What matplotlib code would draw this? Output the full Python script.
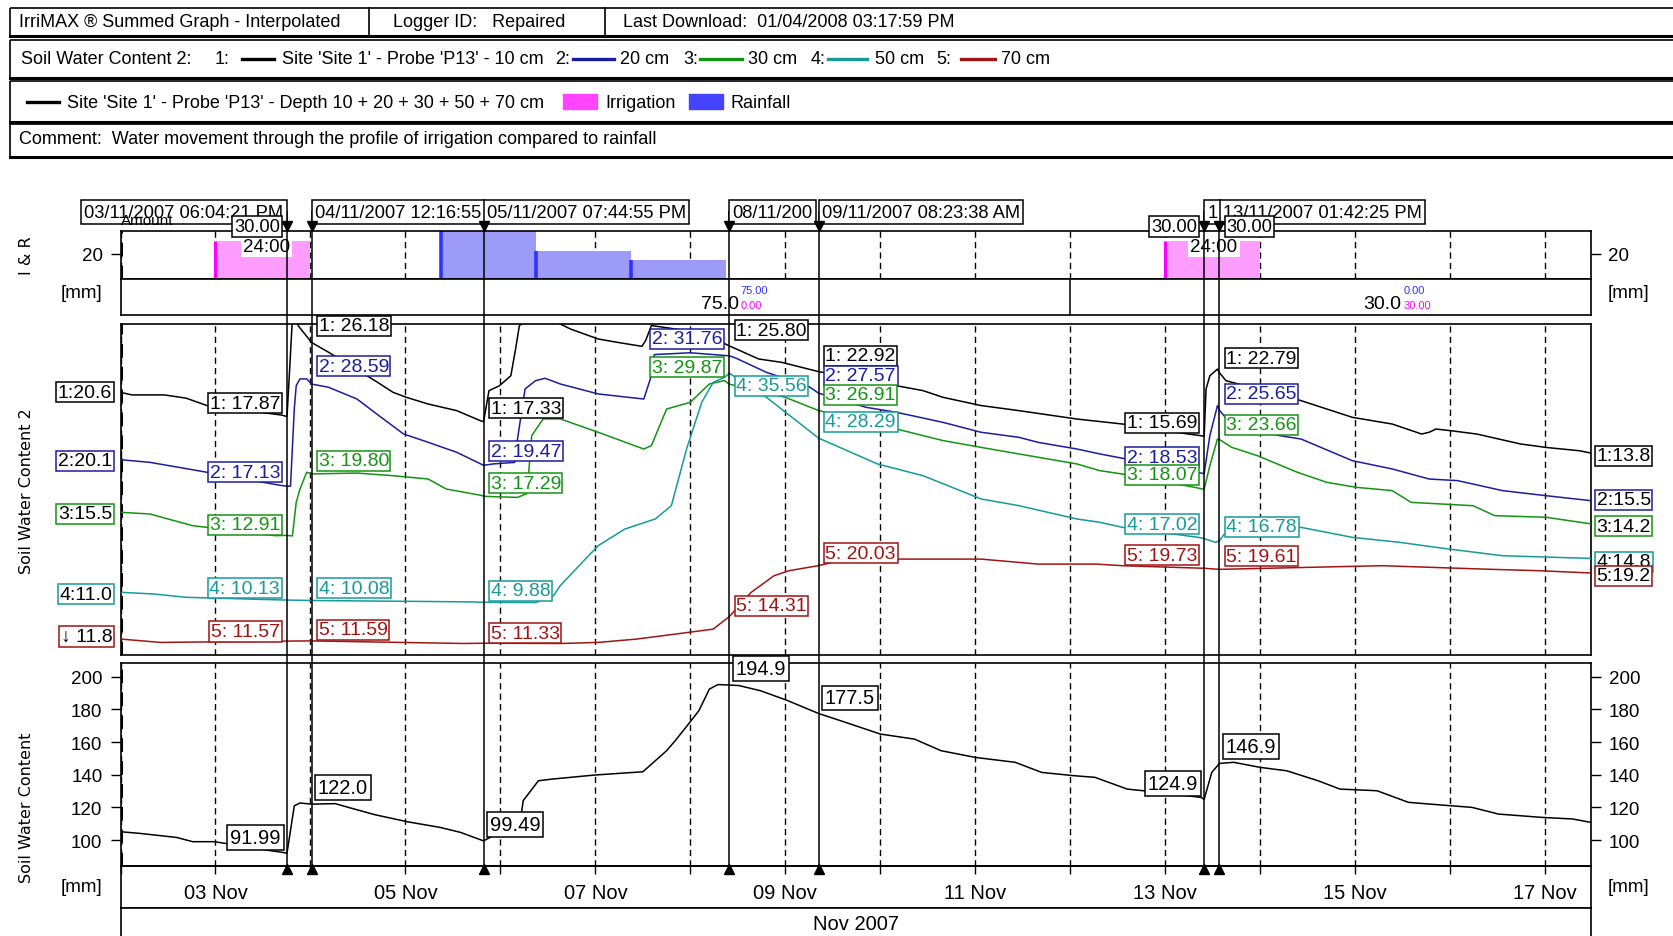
import numpy as np
import pandas as pd
import matplotlib
matplotlib.use("Agg")
import matplotlib.pyplot as plt
import matplotlib.dates as mdates
from matplotlib.patches import Rectangle

plt.rcParams['font.family'] = ['Liberation Sans', 'DejaVu Sans']

# all times are days since 02 Nov 2007 00:00
t0 = mdates.date2num(pd.Timestamp("2007-11-02 00:00"))
x_end = 15.483

event_days = [1.7530, 2.0117, 3.8229, 6.4097, 7.3497, 11.4097, 11.5711]
event_names = ["03/11/2007 06:04:21 PM", "04/11/2007 12:16:55", "05/11/2007 07:44:55 PM",
               "08/11/200", "09/11/2007 08:23:38 AM", "1", "13/11/2007 01:42:25 PM"]

irr_days = [1.0, 11.0]
irr_len = [1.0, 1.0]
irr_mm = [30.0, 30.0]
rain_days = [3.375, 4.375, 5.375]
rain_len = [1.0, 1.0, 1.0]
rain_mm = [38.0, 22.0, 15.0]
total_edges = [2.0117, 10.0, 15.483]

depths = ["10 cm", "20 cm", "30 cm", "50 cm", "70 cm"]
colors = ["#000000", "#1c1ca0", "#139413", "#169a9a", "#a01414"]

s1_days = [0, 0.12, 0.46, 0.69, 0.91, 1.30, 1.70, 1.7530, 1.78, 1.807, 1.84, 1.87, 2.0117,
           2.19, 2.68, 2.87, 3.01, 3.24, 3.54, 3.79, 3.8229, 3.88, 3.99, 4.11, 4.16, 4.20,
           4.40, 4.63, 4.74, 5.03, 5.23, 5.49, 5.53, 5.59, 5.90, 6.20, 6.4097, 6.56, 6.72,
           6.96, 7.3497, 8.17, 8.45, 8.66, 9.06, 9.46, 10.07, 10.55, 11.20, 11.4097, 11.43,
           11.47, 11.55, 11.5711, 11.64, 12.43, 12.97, 13.39, 13.70, 13.78, 13.85, 14.01,
           14.28, 14.74, 15.01, 15.36, 15.483]
s1_vals = [20.6, 20.31, 20.31, 19.95, 19.12, 18.6, 18.05, 17.87, 23.0, 28.3, 30.0, 28.07, 26.18,
           25.09, 21.90, 20.6, 20.04, 19.29, 18.55, 17.42, 17.33, 20.79, 21.34, 22.46, 25.45, 28.08,
           29.6, 28.25, 27.68, 26.57, 26.20, 25.75, 26.41, 28.08, 27.6, 26.9, 25.80, 25.09, 24.33,
           23.96, 22.92, 21.34, 20.79, 20.04, 19.12, 18.55, 17.61, 17.05, 16.0, 15.69, 20.97,
           22.46, 23.2, 22.79, 21.9, 19.67, 17.80, 17.05, 15.93, 16.13, 16.49, 16.30,
           15.93, 14.82, 14.43, 14.06, 13.8]

s2_days = [0, 0.31, 0.61, 0.91, 1.70, 1.7530, 1.79, 1.83, 1.85, 1.89, 1.96, 2.0117, 2.19, 2.49,
           2.72, 2.98, 3.24, 3.54, 3.8229, 3.92, 4.15, 4.18, 4.26, 4.37, 4.47, 4.63, 5.03, 5.51,
           5.59, 5.62, 6.0, 6.4097, 6.48, 6.80, 7.25, 7.3497, 7.85, 8.17, 8.66, 9.06, 9.46, 9.66,
           10.07, 10.31, 10.55, 11.0, 11.4097, 11.47, 11.55, 11.5711, 11.70, 12.20, 12.43, 12.97,
           13.39, 13.78, 14.08, 14.55, 15.01, 15.483]
s2_vals = [20.1, 19.80, 19.25, 18.69, 17.19, 17.13, 17.13, 25.82, 28.41, 29.17, 29.17, 28.59, 28.23, 26.91,
           25.05, 22.99, 22.05, 20.93, 19.47, 19.62, 19.8, 22.42, 28.04, 28.97, 29.24, 28.60, 27.48, 26.91,
           29.54, 31.9, 32.1, 31.76, 31.5, 29.91, 28.3, 27.57, 25.98, 25.42, 24.29, 23.18, 22.61, 22.05,
           21.30, 20.75, 20.26, 19.4, 18.53, 22.81, 26.17, 25.65, 24.0, 22.81, 22.42, 19.99,
           19.06, 17.93, 17.75, 16.63, 16.06, 15.5]

s3_days = [0, 0.31, 0.50, 0.76, 0.91, 1.63, 1.7530, 1.81, 1.85, 1.89, 1.96, 2.0117, 2.49, 2.87,
           3.24, 3.43, 3.81, 3.8229, 4.18, 4.28, 4.33, 4.45, 4.63, 5.03, 5.51, 5.59, 5.75, 6.00,
           6.20, 6.36, 6.4097, 7.00, 7.3497, 8.17, 8.66, 9.06, 9.46, 10.07, 10.31, 10.55, 11.31,
           11.4097, 11.47, 11.55, 11.5711, 11.70, 11.97, 12.39, 12.70, 13.01, 13.39, 13.59, 14.24,
           14.47, 15.01, 15.483]
s3_vals = [15.5, 15.31, 14.75, 14.0, 13.81, 12.88, 12.91, 12.85, 16.61, 18.11, 19.99, 19.80, 19.9, 19.60,
           19.23, 18.11, 17.37, 17.29, 17.17, 17.6, 24.1, 25.97, 25.97, 24.47, 22.59, 22.98, 27.08, 27.83,
           29.89, 30.26, 29.87, 28.39, 26.91, 24.84, 23.54, 22.78, 22.04, 20.92, 20.17, 19.79, 18.30,
           18.07, 20.73, 23.72, 23.66, 22.78, 21.85, 19.99, 18.86, 18.30, 17.93, 16.61, 16.24,
           15.12, 14.94, 14.2]

s4_days = [0, 0.35, 0.69, 1.59, 1.7530, 2.0117, 2.87, 3.24, 3.69, 3.8229, 4.37, 4.56, 4.63, 4.83,
           5.03, 5.31, 5.63, 5.80, 5.96, 6.12, 6.24, 6.36, 6.4097, 6.80, 7.3497, 7.97, 8.45, 9.06,
           9.46, 10.07, 10.31, 10.55, 11.35, 11.4097, 11.53, 11.5711, 11.62, 12.43, 12.97, 13.47,
           13.93, 14.55, 15.483]
s4_vals = [11.0, 10.81, 10.44, 10.17, 10.13, 10.08, 10.0, 9.97, 9.92, 9.88, 9.85, 10.62, 11.74, 14.0,
           16.23, 18.09, 19.22, 20.71, 27.06, 32.30, 34.54, 35.10, 35.56, 32.87, 28.29, 25.39, 24.07, 21.47,
           20.71, 19.22, 18.85, 18.28, 17.16, 17.02, 16.60, 16.78, 17.5, 18.28, 17.16, 16.60,
           15.93, 15.10, 14.8]

s5_days = [0, 0.42, 1.7530, 2.0117, 3.62, 3.8229, 4.63, 5.03, 5.43, 5.84, 6.24, 6.4097, 6.64, 6.88,
           7.04, 7.3497, 7.65, 9.06, 9.66, 10.27, 10.55, 11.4097, 11.5711, 13.28, 14.35, 14.93,
           15.36, 15.483]
s5_vals = [11.8, 11.42, 11.57, 11.59, 11.3, 11.33, 11.3, 11.42, 11.79, 12.35, 12.91, 14.31, 17.03, 18.89,
           19.46, 20.03, 20.76, 20.76, 20.2, 20.2, 20.02, 19.73, 19.61, 20.02, 19.64, 19.46,
           19.26, 19.2]

sum_days = [0, 0.20, 0.59, 0.76, 0.99, 1.58, 1.70, 1.7530, 1.83, 1.89, 2.0117, 2.26, 2.40, 2.68,
            3.02, 3.36, 3.58, 3.8229, 3.89, 4.22, 4.24, 4.40, 4.54, 4.99, 5.50, 5.75, 5.84, 5.98,
            6.09, 6.20, 6.29, 6.4097, 6.51, 6.74, 7.02, 7.3497, 7.58, 8.00, 8.36, 8.64, 9.00, 9.42,
            9.70, 10.04, 10.26, 10.60, 10.77, 11.16, 11.38, 11.4097, 11.49, 11.5711, 11.72, 12.00,
            12.28, 12.61, 12.84, 13.23, 13.56, 13.79, 14.23, 14.51, 14.96, 15.29, 15.483]
sum_mm = [105.1, 104.1, 101.6, 99.0, 99.0, 93.5, 92.5, 91.99, 121.0, 122.7, 122.0, 122.3, 120.0, 115.5,
          111.2, 107.8, 104.7, 99.49, 101.6, 115.9, 124.1, 136.3, 137.3, 139.8, 141.8, 154.7, 160.8, 171.0,
          179.2, 192.4, 195.2, 194.9, 194.6, 191.4, 185.5, 177.5, 173.1, 164.9, 161.8, 154.7, 150.6, 147.6,
          141.4, 139.4, 138.4, 131.2, 130.2, 127.6, 126.1, 124.9, 141.4, 146.9, 147.6, 144.5,
          142.4, 136.3, 131.2, 130.2, 123.1, 122.0, 120.0, 115.9, 113.9, 112.9, 110.8]

series = [(s1_days, s1_vals), (s2_days, s2_vals), (s3_days, s3_vals),
          (s4_days, s4_vals), (s5_days, s5_vals)]
# each trace has its own scale inside the shared panel
trace_ylim = [(-8.81, 28.25), (-1.82, 35.33), (-0.50, 36.61), (3.97, 41.08), (10.01, 47.11)]

# tag placement per event: side (+1 right of the line, -1 left) and height in the panel
tag_side = [[-1] * 5, [1] * 5, [1] * 5, [1, -1, -1, 1, 1], [1] * 5, [-1] * 5, [1] * 5]
tag_y = [[0.761, 0.552, 0.394, 0.202, 0.071],
         [0.995, 0.872, 0.587, 0.202, 0.076],
         [0.746, 0.615, 0.519, 0.194, 0.066],
         [0.981, 0.956, 0.869, 0.814, 0.149],
         [0.904, 0.844, 0.786, 0.705, 0.308],
         [0.702, 0.597, 0.544, 0.395, 0.302],
         [0.897, 0.789, 0.695, 0.387, 0.298]]
edge_y_left = [0.794, 0.587, 0.426, 0.184, 0.056]
edge_y_right = [0.602, 0.469, 0.389, 0.282, 0.240]
sum_side = [-1, 1, 1, 1, 1, -1, 1]
sum_y = [0.139, 0.386, 0.202, 0.974, 0.828, 0.407, 0.587]

W, H = 1673, 937
L, R = 120.5, 1591.0
fig = plt.figure(figsize=(W / 100, H / 100), dpi=100)
fig.patch.set_facecolor("white")


def panel(y0, y1, x0=L, x1=R):
    return fig.add_axes([x0 / W, 1 - y1 / H, (x1 - x0) / W, (y1 - y0) / H])


def frame(ax):
    ax.set_xlim(t0, t0 + x_end)
    for s in ax.spines.values():
        s.set_linewidth(1.2)
    ax.tick_params(axis="x", which="both", bottom=False, labelbottom=False)


def day_grid(ax):
    ax.vlines(t0 + np.arange(0, 16), 0, 1, transform=ax.get_xaxis_transform(),
              colors="k", lw=1.0, linestyles=(0, (4.5, 3)), zorder=0.5)
    ax.vlines(t0, 0, 1, transform=ax.get_xaxis_transform(),
              colors="k", lw=2.2, linestyles=(0, (4.5, 3)), zorder=0.6)


def hhmm(days):
    m = int(round(days * 24 * 60))
    return f"{m // 60:02d}:{m % 60:02d}"


# ---------- header block ----------
canvas = fig.add_axes([0, 0, 1, 1])
canvas.set_xlim(0, W)
canvas.set_ylim(H, 0)
canvas.axis("off")
for y0, y1 in [(8.5, 37.3), (40.5, 79), (82, 122.7), (125, 158)]:
    canvas.add_patch(Rectangle((9.6, y0), 1700, y1 - y0, fill=False, lw=1.2, ec="k"))
    canvas.plot([9.6, 1700], [y1, y1], color="k", lw=2.2)
canvas.plot([369, 369], [8.5, 37.3], color="k", lw=1.2)
canvas.plot([605, 605], [8.5, 37.3], color="k", lw=1.2)
hfs = 13
canvas.text(19.2, 22.5, "IrriMAX \u00ae Summed Graph - Interpolated", fontsize=hfs, va="center")
canvas.text(392.6, 22.5, "Logger ID:   Repaired", fontsize=hfs, va="center")
canvas.text(623, 22.5, "Last Download:  01/04/2008 03:17:59 PM", fontsize=hfs, va="center")

canvas.text(21.3, 60, "Soil Water Content 2:", fontsize=hfs, va="center")
leg_x = [(214.5, 242, 274, 282), (555, 573, 614, 620), (683, 700, 742, 748),
         (811, 828, 867, 875), (936.8, 961, 995, 1001)]
for i, (xn, xa, xb, xt) in enumerate(leg_x):
    canvas.text(xn, 60, f"{i + 1}:", fontsize=hfs, va="center")
    canvas.plot([xa, xb], [60, 60], color=colors[i], lw=2.4)
    name = "Site 'Site 1' - Probe 'P13' - " + depths[i] if i == 0 else depths[i]
    canvas.text(xt, 60, name, fontsize=hfs, va="center")

canvas.plot([26.7, 58.7], [103, 103], color="k", lw=2.4)
canvas.text(67.2, 103, "Site 'Site 1' - Probe 'P13' - Depth 10 + 20 + 30 + 50 + 70 cm",
            fontsize=hfs, va="center")
canvas.add_patch(Rectangle((563.4, 95), 34, 15, color="#ff44ff"))
canvas.text(605, 103, "Irrigation", fontsize=hfs, va="center")
canvas.add_patch(Rectangle((689.3, 95), 34, 15, color="#4444ff"))
canvas.text(731, 103, "Rainfall", fontsize=hfs, va="center")
canvas.text(19.2, 140, "Comment:  Water movement through the profile of irrigation compared to rainfall",
            fontsize=hfs, va="center")

# axis titles and units
canvas.text(26.7, 256, "I & R", rotation=90, family="DejaVu Sans", fontsize=11.5,
            ha="center", va="center")
canvas.text(26.7, 491, "Soil Water Content 2", rotation=90, family="DejaVu Sans", fontsize=11.5,
            ha="center", va="center")
canvas.text(26.7, 808, "Soil Water Content", rotation=90, family="DejaVu Sans", fontsize=11.5,
            ha="center", va="center")
for yy in (293.4, 888):
    canvas.text(82, yy, "[mm]", fontsize=13.5, ha="center", va="center")
    canvas.text(1629, yy, "[mm]", fontsize=13.5, ha="center", va="center")

# ---------- irrigation & rainfall ----------
ax_ir = panel(231.6, 280.0)
frame(ax_ir)
day_grid(ax_ir)
ax_ir.set_ylim(0, 38.5)
ax_ir.bar(t0 + np.array(irr_days), irr_mm, width=irr_len, align="edge",
          color="#ff9cff", lw=0, zorder=2)
ax_ir.vlines(t0 + np.array(irr_days), 0, irr_mm, colors="#ff00ff", lw=2.2, zorder=2.1)
ax_ir.bar(t0 + np.array(rain_days), rain_mm, width=rain_len, align="edge",
          color="#9c9cf8", lw=0, zorder=2)
ax_ir.vlines(t0 + np.array(rain_days), 0, rain_mm, colors="#3030ff", lw=2.6, zorder=2.1)
ax_ir.set_yticks([20])
ax_ir.tick_params(axis="y", direction="out", length=7.5, width=1, pad=5, labelsize=13.5,
                  left=True, right=True, labelleft=True, labelright=True)
for xc, ln in zip([1.537, 11.513], irr_len):
    ax_ir.text(t0 + xc, 0.68, hhmm(ln), transform=ax_ir.get_xaxis_transform(),
               ha="center", va="center", fontsize=13.5, zorder=3,
               bbox=dict(boxstyle="square,pad=0.12", fc="white", ec="none"))

ax_strip = panel(280.0, 316.0)
frame(ax_strip)
ax_strip.set_ylim(0, 1)
ax_strip.set_yticks([])
ax_strip.axvline(t0 + total_edges[1], color="k", lw=1.1)
for i, xr in enumerate([6.508, 13.486]):
    a, b = total_edges[i], total_edges[i + 1]
    r = sum(m for d, m in zip(rain_days, rain_mm) if a <= d < b)
    g = sum(m for d, m in zip(irr_days, irr_mm) if a <= d < b)
    ax_strip.text(t0 + xr, 0.31, f"{r + g:.1f}", ha="right", va="center", fontsize=14)
    ax_strip.text(t0 + xr + 0.02, 0.70, f"{r:.2f}", ha="left", va="center",
                  fontsize=8, color="#3030ff")
    ax_strip.text(t0 + xr + 0.02, 0.28, f"{g:.2f}", ha="left", va="center",
                  fontsize=8, color="#ff00ff")

# ---------- soil water content per depth ----------
ax_mid = panel(325.0, 656.0)
frame(ax_mid)
day_grid(ax_mid)
ax_mid.set_yticks([])
for i, (d, v) in enumerate(series):
    sub = panel(325.0, 656.0)
    sub.set_xlim(t0, t0 + x_end)
    sub.set_ylim(*trace_ylim[i])
    sub.axis("off")
    sub.patch.set_visible(False)
    sub.plot(t0 + np.array(d), v, color=colors[i], lw=1.1)

tags = panel(325.0, 656.0)
tags.set_xlim(t0, t0 + x_end)
tags.axis("off")
tags.patch.set_visible(False)
tfs = 14
for e, ed in enumerate(event_days):
    for i, (d, v) in enumerate(series):
        val = np.interp(ed, d, v)
        side = tag_side[e][i]
        tags.annotate(f"{i + 1}: {val:.2f}", xy=(t0 + ed, tag_y[e][i]),
                      xycoords=("data", "axes fraction"), xytext=(5.0 * side, 0),
                      textcoords="offset points", ha="left" if side > 0 else "right",
                      va="center", fontsize=tfs, color=colors[i], annotation_clip=False,
                      bbox=dict(boxstyle="square,pad=0.08", fc="white", ec=colors[i], lw=1.1))
for i, (d, v) in enumerate(series):
    first = f"{i + 1}:{v[0]:.1f}" if i < 4 else f"\u2193 {v[0]:.1f}"
    tags.annotate(first, xy=(0, edge_y_left[i]), xycoords="axes fraction",
                  xytext=(-6.0, 0), textcoords="offset points", ha="right", va="center",
                  fontsize=tfs, annotation_clip=False,
                  bbox=dict(boxstyle="square,pad=0.08", fc="white", ec=colors[i], lw=1.1))
    tags.annotate(f"{i + 1}:{v[-1]:.1f}", xy=(1, edge_y_right[i]), xycoords="axes fraction",
                  xytext=(4.0, 0), textcoords="offset points", ha="left", va="center",
                  fontsize=tfs, annotation_clip=False,
                  bbox=dict(boxstyle="square,pad=0.08", fc="white", ec=colors[i], lw=1.1))

# ---------- summed profile ----------
ax_bot = panel(664.0, 866.7)
ax_bot.set_xlim(t0, t0 + x_end)
for s in ax_bot.spines.values():
    s.set_linewidth(1.2)
day_grid(ax_bot)
ax_bot.set_ylim(84.3, 208.4)
ax_bot.plot(t0 + np.array(sum_days), sum_mm, color="k", lw=1.1)
ax_bot.set_yticks(np.arange(100, 201, 20))
ax_bot.tick_params(axis="y", direction="out", length=7.5, width=1, pad=5.5, labelsize=13.5,
                   left=True, right=True, labelleft=True, labelright=True)
tick_days = np.arange(0, 16)
ax_bot.set_xticks(t0 + tick_days)
ax_bot.set_xticklabels([f"{2 + k:02d} Nov" if (2 + k) % 2 == 1 else "" for k in tick_days])
ax_bot.tick_params(axis="x", direction="out", length=6, width=1, pad=6.5, labelsize=14.5)
for e, ed in enumerate(event_days):
    val = np.interp(ed, sum_days, sum_mm)
    side = sum_side[e]
    ax_bot.annotate(f"{val:#.4g}", xy=(t0 + ed, sum_y[e]), xycoords=("data", "axes fraction"),
                    xytext=(4.5 * side, 0), textcoords="offset points",
                    ha="left" if side > 0 else "right", va="center", fontsize=14.5,
                    annotation_clip=False, zorder=4,
                    bbox=dict(boxstyle="square,pad=0.14", fc="white", ec="k", lw=1.1))

ax_date = panel(866.7, 909.0)
ax_date.set_xticks([])
ax_date.set_yticks([])
ax_date.patch.set_visible(False)
for s in ax_date.spines.values():
    s.set_linewidth(1.2)
ax_month = panel(909.0, 941.0)
ax_month.set_xticks([])
ax_month.set_yticks([])
for s in ax_month.spines.values():
    s.set_linewidth(1.2)
ax_month.text(0.5, 0.5, "Nov 2007", ha="center", va="center", fontsize=14.5,
              transform=ax_month.transAxes)

# ---------- event cursors across all panels ----------
ov = panel(212.0, 866.7)
ov.set_zorder(10)
ov.set_xlim(t0, t0 + x_end)
ov.set_ylim(866.7, 212.0)
ov.axis("off")
ov.patch.set_visible(False)
ev_x = t0 + np.array(event_days)
ov.vlines(ev_x, 212.0, 866.7, colors="k", lw=1.1, zorder=1)
for e, (ed, name) in enumerate(zip(event_days, event_names)):
    side = -1 if e == 0 else 1
    ov.annotate(name, xy=(t0 + ed, 213.3), xytext=(2.5 * side, 0), textcoords="offset points",
                ha="left" if side > 0 else "right", va="center", fontsize=13.2, zorder=3 + e * 0.01,
                annotation_clip=False,
                bbox=dict(boxstyle="square,pad=0.18", fc="white", ec="k", lw=1.1))
ov.text(t0 + 0.01, 221.0, "Amount", ha="left", va="center", fontsize=11, zorder=3.5)
amount_at = [(0, -1, irr_mm[0]), (5, -1, irr_mm[1]), (6, 1, irr_mm[1])]
for e, side, mm in amount_at:
    ov.annotate(f"{mm:.2f}", xy=(ev_x[e], 227.3), xytext=(5.0 * side, 0),
                textcoords="offset points", ha="left" if side > 0 else "right", va="center",
                fontsize=13.2, zorder=4, annotation_clip=False,
                bbox=dict(boxstyle="square,pad=0.1", fc="white", ec="k", lw=1.1))
ov.plot(ev_x, [227.0] * len(ev_x), "v", ms=7.5, color="k", zorder=5, clip_on=False)
ov.plot(ev_x, [869.5] * len(ev_x), "^", ms=7.5, color="k", zorder=5, clip_on=False)

fig.savefig("out.png", dpi=100)
